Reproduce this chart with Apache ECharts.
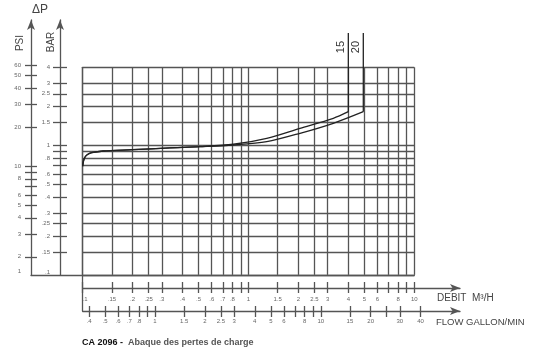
<!DOCTYPE html>
<html><head><meta charset="utf-8">
<script src="https://cdn.jsdelivr.net/npm/echarts@6/dist/echarts.min.js"></script>
<style>html,body{margin:0;padding:0;background:#fff}#c{width:555px;height:356px}</style>
</head><body><div id="c"></div>
<script>
// ---- data ----
const debitTicks = [0.1,0.15,0.2,0.25,0.3,0.4,0.5,0.6,0.7,0.8,0.9,1,1.5,2,2.5,3,4,5,6,7,8,9,10];
const debitLabels = [0.1,0.15,0.2,0.25,0.3,0.4,0.5,0.6,0.7,0.8,1,1.5,2,2.5,3,4,5,6,8,10];
const gpmTicks = [0.4,0.5,0.6,0.7,0.8,0.9,1,1.5,2,2.5,3,4,5,6,7,8,9,10,15,20,25,30,40];
const gpmLabels = [0.4,0.5,0.6,0.7,0.8,1,1.5,2,2.5,3,4,5,6,8,10,15,20,30,40];
const barTicks = [0.1,0.15,0.2,0.25,0.3,0.4,0.5,0.6,0.7,0.8,0.9,1,1.5,2,2.5,3,4];
const barLabels = [0.1,0.15,0.2,0.25,0.3,0.4,0.5,0.6,0.8,1,1.5,2,2.5,3,4];
const psiTicks = [2,3,4,5,6,7,8,9,10,20,30,40,50,60];
const psiLabels = [2,3,4,5,6,8,10,20,30,40,50,60];

// curve points (flow m3/h, pressure drop bar); last point is the top of the vertical riser
const flow15 = [0.1, 0.1011, 0.1033, 0.1069, 0.1133, 0.133, 0.2, 0.336, 0.51, 0.81, 1.288, 2.045, 3.247, 4.0, 4.0];
const dp15   = [0.69, 0.757, 0.813, 0.85, 0.877, 0.904, 0.925, 0.955, 0.976, 1.019, 1.133, 1.353, 1.617, 1.818, 7.36];
const flow20 = [0.1, 0.1011, 0.1033, 0.1069, 0.1133, 0.133, 0.2, 0.336, 0.51, 0.81, 1.288, 2.045, 3.247, 4.925, 4.925];
const dp20   = [0.69, 0.757, 0.813, 0.85, 0.877, 0.904, 0.925, 0.955, 0.976, 1.006, 1.067, 1.238, 1.479, 1.818, 7.36];

// ---- conversions ----
const L = Math.log10;
const GPM_PER_M3H = 3.6662;   // imperial gallons / min per m3/h
const PSI_PER_BAR = 14.5038;

// ---- layout ----
const gx0 = 82.7, gx1 = 414.3, gy0 = 67.3, gy1 = 274.9;
const pxDecX = (gx1 - gx0) / 2;
const pxDecY = (gy1 - gy0) / (L(4) + 1);
const arrowX = 460, axTop = 20, psiX = 31, barX = 60, debitY = 288, flowY = 311;

const fmt = v => { const s = String(+Math.pow(10, v).toPrecision(3)); return s.startsWith('0.') ? s.slice(1) : s; };
const LINE = '#555', TXT = '#666', FONT = 'Liberation Sans, Arial, sans-serif';
const lblStyle = {fontSize: 6, color: TXT, fontFamily: FONT};

const yTopLeft = -1 + (gy1 - axTop) / pxDecY;
const xMaxB = -1 + (arrowX - gx0) / pxDecX;
const gpmMin = L(0.1 * GPM_PER_M3H);

const curvePts = (flows, dps) => flows.slice(0, -1).map((f, i) => [L(f), L(dps[i])]);
function riserPts(flows, dps, name){
  const n = flows.length;
  return [
    [L(flows[n - 2]), L(dps[n - 2])],
    {value: [L(flows[n - 1]), L(dps[n - 1])],
     label: {show: true, formatter: name, position: 'left', rotate: 90, distance: 7,
             padding: [0, 8, 0, 0], fontSize: 11, color: '#333', fontFamily: FONT}}
  ];
}

const hid = {show: false};
const curveStyle = {type: 'line', xAxisIndex: 0, yAxisIndex: 0, clip: false,
  lineStyle: {color: '#222', width: 1.3}, itemStyle: {color: '#222'}, z: 5};
const option = {
  animation: false,
  title: {left: 82, top: 334, padding: 0,
    text: '{b|CA 2096 -} {n|Abaque des pertes de charge}',
    textStyle: {rich: {b: {fontWeight: 'bold', fontSize: 9, color: '#111', fontFamily: FONT},
                       n: {fontSize: 9, color: '#555', fontFamily: FONT}}}},
  grid: [
    {left: gx0, top: gy0, width: gx1 - gx0, height: gy1 - gy0},
    {left: psiX, top: axTop, width: gx1 - psiX, height: gy1 - axTop},
    {left: gx0, top: gy0, width: arrowX - gx0, height: flowY - gy0}
  ],
  xAxis: [
    {gridIndex: 0, type: 'value', min: -1, max: 1, axisLine: hid, axisLabel: hid,
     axisTick: {show: false, customValues: debitTicks.map(L)},
     splitLine: {show: true, lineStyle: {color: LINE, width: 1.3}}},
    {gridIndex: 1, type: 'value', min: 0, max: 1, axisLine: {show: true, onZero: false, lineStyle: {color: LINE, width: 1.3}},
     axisTick: hid, axisLabel: hid, splitLine: hid},
    // DEBIT axis line + labels
    {gridIndex: 2, type: 'value', min: -1, max: xMaxB, position: 'bottom', offset: -(flowY - debitY),
     axisLine: {show: true, onZero: false, symbol: ['none', 'arrow'], symbolSize: [6, 10], lineStyle: {color: LINE, width: 1.3}},
     axisTick: hid, splitLine: hid,
     axisLabel: Object.assign({show: true, customValues: debitLabels.map(L), margin: 8,
       formatter: (v, i) => i === 0 ? '{p|' + fmt(v) + '}' : fmt(v), alignMinLabel: 'left',
       rich: {p: {padding: [0, 0, 0, 6], fontSize: 6, color: TXT, fontFamily: FONT}}}, lblStyle)},
    // DEBIT ticks
    {gridIndex: 2, type: 'value', min: -1, max: xMaxB, position: 'bottom', offset: -(flowY - debitY + 6),
     axisLine: {show: false, onZero: false}, axisLabel: hid, splitLine: hid,
     axisTick: {show: true, customValues: debitTicks.map(L), length: 11, lineStyle: {color: LINE, width: 1.3}}},
    // FLOW axis line + labels
    {gridIndex: 2, type: 'value', min: gpmMin, max: gpmMin + (xMaxB + 1), position: 'bottom', offset: 0,
     axisLine: {show: true, onZero: false, symbol: ['none', 'arrow'], symbolSize: [6, 10], lineStyle: {color: LINE, width: 1.3}},
     axisTick: hid, splitLine: hid,
     axisLabel: Object.assign({show: true, customValues: gpmLabels.map(L), margin: 7, formatter: fmt}, lblStyle)},
    // FLOW ticks
    {gridIndex: 2, type: 'value', min: gpmMin, max: gpmMin + (xMaxB + 1), position: 'bottom', offset: -5,
     axisLine: {show: false, onZero: false}, axisLabel: hid, splitLine: hid,
     axisTick: {show: true, customValues: gpmTicks.map(L), length: 11, lineStyle: {color: LINE, width: 1.3}}}
  ],
  yAxis: [
    {gridIndex: 0, type: 'value', min: -1, max: L(4), axisLine: hid, axisLabel: hid,
     axisTick: {show: false, customValues: barTicks.map(L)},
     splitLine: {show: true, lineStyle: {color: LINE, width: 1.3}}},
    // BAR axis line + labels
    {gridIndex: 1, type: 'value', min: -1, max: yTopLeft, position: 'left', offset: -(barX - psiX),
     axisLine: {show: true, onZero: false, symbol: ['none', 'arrow'], symbolSize: [6, 10], lineStyle: {color: LINE, width: 1.3}},
     axisTick: hid, splitLine: hid,
     axisLabel: Object.assign({show: true, customValues: barLabels.map(L), margin: 10, formatter: fmt, verticalAlignMinLabel: 'bottom'}, lblStyle)},
    // BAR ticks
    {gridIndex: 1, type: 'value', min: -1, max: yTopLeft, position: 'left', offset: -(barX - psiX + 7),
     axisLine: {show: false, onZero: false}, axisLabel: hid, splitLine: hid,
     axisTick: {show: true, customValues: barTicks.filter(v => v > 0.1).map(L), length: 14, lineStyle: {color: LINE, width: 1.3}}},
    // PSI axis line + labels
    {gridIndex: 1, type: 'value', min: -1 + L(PSI_PER_BAR), max: yTopLeft + L(PSI_PER_BAR), position: 'left', offset: 0,
     axisLine: {show: true, onZero: false, symbol: ['none', 'arrow'], symbolSize: [6, 10], lineStyle: {color: LINE, width: 1.3}},
     axisTick: hid, splitLine: hid,
     axisLabel: Object.assign({show: true, customValues: psiLabels.map(L), margin: 10, formatter: fmt}, lblStyle)},
    // PSI ticks
    {gridIndex: 1, type: 'value', min: -1 + L(PSI_PER_BAR), max: yTopLeft + L(PSI_PER_BAR), position: 'left', offset: -6,
     axisLine: {show: false, onZero: false}, axisLabel: hid, splitLine: hid,
     axisTick: {show: true, customValues: psiTicks.map(L), length: 12, lineStyle: {color: LINE, width: 1.3}}},
    // left border below plot
    {gridIndex: 2, type: 'value', min: 0, max: 1, position: 'left',
     axisLine: {show: true, onZero: false, lineStyle: {color: LINE, width: 1.3}},
     axisTick: hid, axisLabel: hid, splitLine: hid}
  ],
  graphic: [
    {type: 'text', x: 32, y: 10, style: {text: 'ΔP', fill: '#444', font: '12px ' + FONT, verticalAlign: 'middle'}},
    {type: 'text', x: 20, y: 43, rotation: Math.PI / 2, style: {text: 'PSI', fill: '#444', font: '10px ' + FONT, align: 'center', verticalAlign: 'middle'}},
    {type: 'text', x: 51, y: 42, rotation: Math.PI / 2, style: {text: 'BAR', fill: '#444', font: '10px ' + FONT, align: 'center', verticalAlign: 'middle'}},
    {type: 'text', x: 21, y: 271, style: {text: '1', fill: TXT, font: '6px ' + FONT, align: 'right', verticalAlign: 'middle'}},
    {type: 'text', x: 437, y: 298, style: {text: 'DEBIT  M³/H', fill: '#444', font: '10px ' + FONT, verticalAlign: 'middle'}},
    {type: 'text', x: 436, y: 322, style: {text: 'FLOW GALLON/MIN', fill: '#444', font: '9.5px ' + FONT, verticalAlign: 'middle'}}
  ],
  series: [
    Object.assign({name: '15', data: curvePts(flow15, dp15), smooth: 0.3, showSymbol: false}, curveStyle),
    Object.assign({name: '20', data: curvePts(flow20, dp20), smooth: 0.3, showSymbol: false}, curveStyle),
    Object.assign({name: '15', data: riserPts(flow15, dp15, '15'), symbol: 'circle', symbolSize: 0, showSymbol: true}, curveStyle),
    Object.assign({name: '20', data: riserPts(flow20, dp20, '20'), symbol: 'circle', symbolSize: 0, showSymbol: true}, curveStyle)
  ]
};
const chart = echarts.init(document.getElementById('c'), null, {renderer: 'canvas'});
chart.setOption(option);
</script></body></html>
